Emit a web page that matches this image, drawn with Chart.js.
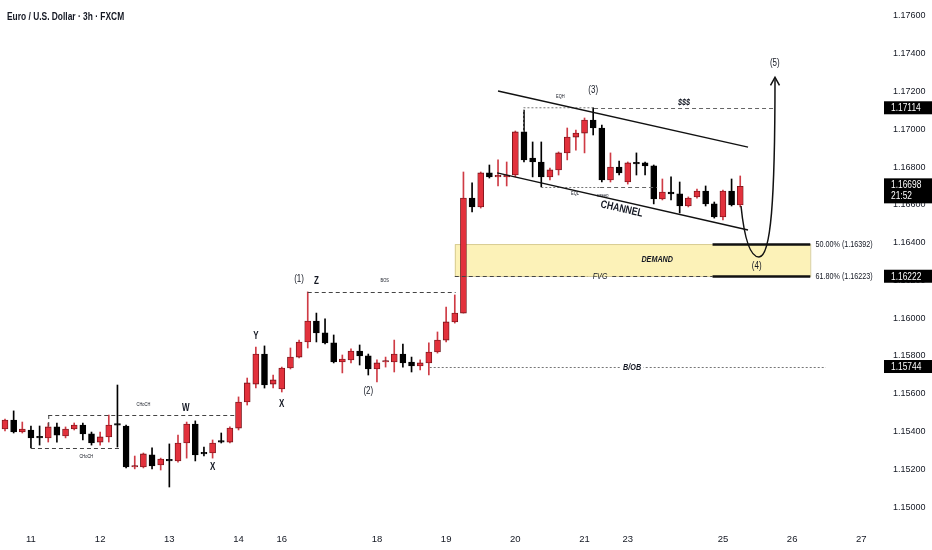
<!DOCTYPE html>
<html>
<head>
<meta charset="utf-8">
<script src="https://cdn.jsdelivr.net/npm/chart.js@4.4.1/dist/chart.umd.min.js"></script>
<style>
  html, body { margin: 0; padding: 0; background: #fff; }
  #wrap { width: 932px; height: 550px; position: relative; }
</style>
</head>
<body>
<div id="wrap"><canvas id="chart" width="932" height="550"></canvas></div>
<script>
// EUR/USD 3h candles (index 0 = first candle on the left)
const opens = [
  1.15413, 1.15461, 1.15397, 1.15408, 1.15371, 1.15366, 1.15424, 1.15376, 1.15413, 1.15434,
  1.15387, 1.15344, 1.15371, 1.15439, 1.15429, 1.15212, 1.15212, 1.15276, 1.15223, 1.15249,
  1.15244, 1.15339, 1.15439, 1.15286, 1.15286, 1.15350, 1.15344, 1.15418, 1.15556, 1.15651,
  1.15810, 1.15651, 1.15625, 1.15736, 1.15794, 1.15874, 1.15985, 1.15922, 1.15869, 1.15768,
  1.15779, 1.15826, 1.15800, 1.15731, 1.15768, 1.15768, 1.15810, 1.15768, 1.15747, 1.15763,
  1.15821, 1.15884, 1.15980, 1.16027, 1.16636, 1.16589, 1.16769, 1.16748, 1.16748, 1.16758,
  1.16986, 1.16848, 1.16827, 1.16748, 1.16785, 1.16875, 1.16959, 1.16980, 1.17049, 1.17007,
  1.16732, 1.16800, 1.16721, 1.16822, 1.16822, 1.16806, 1.16631, 1.16668, 1.16658, 1.16594,
  1.16642, 1.16673, 1.16605, 1.16536, 1.16673, 1.16599
];
const highs = [
  1.15466, 1.15509, 1.15450, 1.15429, 1.15429, 1.15445, 1.15445, 1.15424, 1.15445, 1.15445,
  1.15397, 1.15397, 1.15487, 1.15646, 1.15434, 1.15270, 1.15286, 1.15313, 1.15259, 1.15334,
  1.15381, 1.15450, 1.15456, 1.15318, 1.15355, 1.15392, 1.15424, 1.15583, 1.15683, 1.15847,
  1.15853, 1.15699, 1.15741, 1.15842, 1.15884, 1.16139, 1.16027, 1.15996, 1.15911, 1.15805,
  1.15837, 1.15858, 1.15810, 1.15779, 1.15794, 1.15884, 1.15863, 1.15794, 1.15779, 1.15869,
  1.15927, 1.16059, 1.16123, 1.16774, 1.16716, 1.16774, 1.16811, 1.16838, 1.16827, 1.16991,
  1.17102, 1.16933, 1.16933, 1.16795, 1.16880, 1.17007, 1.16996, 1.17060, 1.17114, 1.17023,
  1.16875, 1.16832, 1.16827, 1.16875, 1.16827, 1.16811, 1.16737, 1.16748, 1.16721, 1.16642,
  1.16684, 1.16700, 1.16615, 1.16678, 1.16737, 1.16753
];
const lows = [
  1.15403, 1.15392, 1.15392, 1.15313, 1.15328, 1.15344, 1.15344, 1.15366, 1.15408, 1.15355,
  1.15328, 1.15328, 1.15344, 1.15318, 1.15207, 1.15202, 1.15207, 1.15202, 1.15196, 1.15106,
  1.15238, 1.15259, 1.15244, 1.15270, 1.15259, 1.15339, 1.15339, 1.15408, 1.15540, 1.15630,
  1.15630, 1.15630, 1.15609, 1.15731, 1.15789, 1.15842, 1.15874, 1.15863, 1.15763, 1.15710,
  1.15763, 1.15752, 1.15699, 1.15662, 1.15741, 1.15715, 1.15741, 1.15715, 1.15726, 1.15699,
  1.15815, 1.15874, 1.15974, 1.16027, 1.16562, 1.16583, 1.16742, 1.16700, 1.16700, 1.16748,
  1.16827, 1.16748, 1.16695, 1.16732, 1.16758, 1.16838, 1.16890, 1.16875, 1.16970, 1.16721,
  1.16721, 1.16758, 1.16710, 1.16758, 1.16758, 1.16605, 1.16626, 1.16626, 1.16557, 1.16589,
  1.16636, 1.16594, 1.16530, 1.16520, 1.16594, 1.16589
];
const closes = [
  1.15461, 1.15397, 1.15413, 1.15366, 1.15366, 1.15424, 1.15381, 1.15413, 1.15434, 1.15387,
  1.15339, 1.15371, 1.15434, 1.15434, 1.15212, 1.15217, 1.15281, 1.15217, 1.15254, 1.15244,
  1.15339, 1.15439, 1.15276, 1.15281, 1.15339, 1.15344, 1.15418, 1.15556, 1.15657, 1.15810,
  1.15646, 1.15673, 1.15736, 1.15794, 1.15874, 1.15985, 1.15922, 1.15869, 1.15768, 1.15784,
  1.15826, 1.15800, 1.15731, 1.15763, 1.15773, 1.15810, 1.15763, 1.15747, 1.15763, 1.15821,
  1.15884, 1.15980, 1.16027, 1.16636, 1.16589, 1.16769, 1.16748, 1.16753, 1.16758, 1.16986,
  1.16838, 1.16827, 1.16748, 1.16785, 1.16875, 1.16959, 1.16980, 1.17049, 1.17007, 1.16732,
  1.16800, 1.16769, 1.16822, 1.16817, 1.16806, 1.16631, 1.16668, 1.16658, 1.16594, 1.16636,
  1.16673, 1.16605, 1.16536, 1.16673, 1.16599, 1.16698
];

// time axis: candle index where each day label sits
const dayTicks = [3, 11, 19, 27, 32, 43, 51, 59, 67, 72, 83, 91, 99];
const dayLabels = ['11', '12', '13', '14', '16', '18', '19', '20', '21', '23', '25', '26', '27'];

const priceTicks = [1.150, 1.152, 1.154, 1.156, 1.158, 1.160, 1.162, 1.164, 1.166, 1.168, 1.170, 1.172, 1.174, 1.176];

const lastPrice = 1.16698;
const lastTime = '21:52';
const markedPrices = [1.17114, 1.16222, 1.15744];
const fib50 = 1.16392;
const fib618 = 1.16223;

const UP = '#e2313c';
const DOWN = '#000000';
const TXT = '#131722';
const FONT = '"Liberation Sans", "DejaVu Sans", sans-serif';
const NARROW = 0.8; // TradingView's font is narrower than anything installed

var chart;

function buildDatasets() {
  var wicks = [], bodies = [], wickColors = [], bodyColors = [], borderColors = [];
  opens.forEach((o, i) => {
    wicks.push({ x: i, y: [lows[i], highs[i]] });
    bodies.push({ x: i, y: [o, closes[i]] });
    var up = closes[i] >= o;
    wickColors.push(up ? '#cf3b45' : DOWN);
    bodyColors.push(up ? UP : DOWN);
    borderColors.push(up ? '#6b1016' : DOWN);
  });
  return [{
    data: wicks,
    backgroundColor: wickColors,
    barThickness: 1,
    grouped: false,
    order: 2
  }, {
    data: bodies,
    backgroundColor: bodyColors,
    borderColor: borderColors,
    borderWidth: 0.8,
    borderSkipped: false,
    barThickness: 6,
    minBarLength: 1.5,
    grouped: false,
    order: 1
  }];
}

// drawing helpers in data units
function px(v) { return chart.scales.x.getPixelForValue(v); }
function py(v) { return chart.scales.y.getPixelForValue(v); }

function hline(ctx, x1, x2, p, dash, color, width) {
  ctx.save();
  ctx.beginPath();
  ctx.setLineDash(dash || []);
  ctx.strokeStyle = color || '#333';
  ctx.lineWidth = width || 1;
  ctx.moveTo(px(x1), Math.round(py(p)) + 0.5);
  ctx.lineTo(px(x2), Math.round(py(p)) + 0.5);
  ctx.stroke();
  ctx.restore();
}

function seg(ctx, x1, p1, x2, p2, color, width) {
  ctx.save();
  ctx.beginPath();
  ctx.strokeStyle = color;
  ctx.lineWidth = width;
  ctx.moveTo(px(x1), py(p1));
  ctx.lineTo(px(x2), py(p2));
  ctx.stroke();
  ctx.restore();
}

// text squeezed horizontally, anchored at (X, Y) in pixels
function text(ctx, s, X, Y, font, align, bg, color) {
  ctx.save();
  ctx.translate(X, Y);
  ctx.scale(NARROW, 1);
  ctx.font = font;
  ctx.textAlign = align || 'center';
  ctx.textBaseline = 'middle';
  if (bg) {
    var w = ctx.measureText(s).width;
    var lx = align === 'left' ? 0 : -w / 2;
    ctx.fillStyle = bg;
    ctx.fillRect(lx - 3, -6, w + 6, 12);
  }
  ctx.fillStyle = color || TXT;
  ctx.fillText(s, 0, 0);
  ctx.restore();
}

function label(ctx, s, x, p, font, align, bg) {
  text(ctx, s, px(x), py(p), font, align, bg);
}

const zonePlugin = {
  id: 'zones',
  beforeDatasetsDraw(c) {
    chart = c;
    var ctx = c.ctx;
    // demand / FVG zone
    var x1 = px(52), x2 = px(93.1);
    var y1 = py(fib50), y2 = py(fib618);
    ctx.save();
    ctx.fillStyle = 'rgba(251, 238, 160, 0.75)';
    ctx.fillRect(x1, y1, x2 - x1, y2 - y1);
    ctx.strokeStyle = '#cfc48a';
    ctx.lineWidth = 0.8;
    ctx.strokeRect(x1 + 0.5, y1 + 0.5, x2 - x1, y2 - y1);
    ctx.restore();
  },
  afterDatasetsDraw(c) {
    chart = c;
    var ctx = c.ctx;
    var dash = [4, 3], dot = [2, 2];

    // CHoCH levels
    hline(ctx, 5, 26.6, 1.15487, dash, '#444');
    hline(ctx, 3, 13.3, 1.15313, dash, '#444');
    ctx.save();
    ctx.strokeStyle = '#444';
    ctx.setLineDash(dash);
    ctx.beginPath();
    ctx.moveTo(px(5) + 0.5, py(1.15487));
    ctx.lineTo(px(5) + 0.5, py(1.15424));
    ctx.stroke();
    ctx.restore();
    label(ctx, 'CHoCH', 16, 1.15540, '5px ' + FONT);
    label(ctx, 'CHoCH', 9.4, 1.15265, '5px ' + FONT);

    // BOS
    hline(ctx, 35, 52.1, 1.16139, dash, '#444');
    label(ctx, 'BOS', 43.9, 1.16197, '5px ' + FONT);

    // B/OB
    hline(ctx, 49.1, 94.9, 1.15741, dot, '#777');
    label(ctx, 'B/OB', 72.5, 1.15741, 'italic bold 9px ' + FONT, 'center', '#fff');

    // FVG + fib levels
    hline(ctx, 52, 67.4, fib618, dash, '#444');
    hline(ctx, 70.2, 81.8, fib618, dash, '#444');
    label(ctx, 'DEMAND', 75.4, 1.16308, 'italic bold 9px ' + FONT);
    label(ctx, 'FVG', 68.8, fib618, 'italic 9px ' + FONT);
    hline(ctx, 81.8, 93.1, fib50, [], '#111', 2.5);
    hline(ctx, 81.8, 93.1, fib618, [], '#111', 2.5);
    label(ctx, '50.00% (' + fib50.toFixed(5) + ')', 93.7, fib50, '9px ' + FONT, 'left');
    label(ctx, '61.80% (' + fib618.toFixed(5) + ')', 93.7, fib618, '9px ' + FONT, 'left');

    // EQH / liquidity
    ctx.save();
    ctx.strokeStyle = '#777';
    ctx.setLineDash(dot);
    ctx.beginPath();
    ctx.moveTo(px(59.9) + 0.5, py(1.16986));
    ctx.lineTo(px(59.9) + 0.5, py(1.17114));
    ctx.lineTo(px(68.1), py(1.17114));
    ctx.stroke();
    ctx.restore();
    hline(ctx, 68.1, 89, 1.17114, dash, '#666');
    label(ctx, 'EQH', 64.2, 1.17171, '5px ' + FONT);
    label(ctx, '$$$', 78.5, 1.17140, 'italic bold 9px ' + FONT);

    // EQL
    hline(ctx, 62, 68.8, 1.16695, dot, '#777');
    hline(ctx, 68.8, 75.4, 1.16695, dash, '#666');
    label(ctx, 'EQL', 65.9, 1.16660, '5px ' + FONT);
    label(ctx, 'sweep', 69.1, 1.16650, '5px ' + FONT);

    // channel
    seg(ctx, 57, 1.17203, 85.9, 1.16906, '#111', 1.4);
    seg(ctx, 56.9, 1.16769, 85.9, 1.16467, '#111', 1.4);
    ctx.save();
    ctx.translate(px(71.3), py(1.16578));
    ctx.rotate(Math.atan2(py(1.16467) - py(1.16769), px(85.9) - px(56.9)));
    text(ctx, 'CHANNEL', 0, 0, 'bold 11px ' + FONT);
    ctx.restore();

    // projected path (4) -> (5)
    ctx.save();
    ctx.strokeStyle = '#111';
    ctx.lineWidth = 1.5;
    ctx.beginPath();
    ctx.moveTo(px(85.09), py(1.16594));
    ctx.bezierCurveTo(px(85.43), py(1.16441), px(86.01), py(1.16324), px(87.17), py(1.16324));
    ctx.bezierCurveTo(px(88.55), py(1.16324), px(89.02), py(1.16626), px(89.02), py(1.17265));
    ctx.stroke();
    var tx = px(89.02), ty = py(1.17265) - 2;
    ctx.beginPath();
    ctx.moveTo(tx - 4.5, ty + 8);
    ctx.lineTo(tx, ty);
    ctx.lineTo(tx + 4.5, ty + 8);
    ctx.stroke();
    ctx.restore();

    // wave / structure labels
    var waveFont = '10px ' + FONT;
    var letterFont = 'bold 10px ' + FONT;
    label(ctx, 'W', 20.9, 1.15524, letterFont);
    label(ctx, 'X', 24, 1.15212, letterFont);
    label(ctx, 'X', 32, 1.15545, letterFont);
    label(ctx, 'Y', 29, 1.15905, letterFont);
    label(ctx, 'Z', 36, 1.16197, letterFont);
    label(ctx, '(1)', 34, 1.16207, waveFont);
    label(ctx, '(2)', 42, 1.15614, waveFont);
    label(ctx, '(3)', 68, 1.17208, waveFont);
    label(ctx, '(4)', 86.9, 1.16276, waveFont);
    label(ctx, '(5)', 89, 1.17350, waveFont);
  },
  afterDraw(c) {
    chart = c;
    var ctx = c.ctx;
    var left = c.chartArea.right + 2;
    var boxFont = '10.5px ' + FONT;
    markedPrices.forEach(p => {
      var y = py(p);
      ctx.fillStyle = '#000';
      ctx.fillRect(left, y - 6.5, 48, 13);
      text(ctx, p.toFixed(5), left + 7, y + 0.5, boxFont, 'left', null, '#fff');
    });
    var yl = py(lastPrice);
    ctx.fillStyle = '#000';
    ctx.fillRect(left, yl - 8, 48, 25);
    text(ctx, lastPrice.toFixed(5), left + 7, yl - 1, boxFont, 'left', null, '#fff');
    text(ctx, lastTime, left + 7, yl + 10, boxFont, 'left', null, '#fff');

    // title
    text(ctx, 'Euro / U.S. Dollar \u00b7 3h \u00b7 FXCM', 7, 17, 'bold 10.5px ' + FONT, 'left');
  }
};

function setupChart() {
  var canvas = document.getElementById('chart').getContext('2d');

  chart = new Chart(canvas, {
    type: 'bar',
    data: { datasets: buildDatasets() },
    plugins: [zonePlugin],
    options: {
      responsive: false,
      animation: false,
      events: [],
      layout: { padding: 0 },
      plugins: {
        legend: { display: false },
        tooltip: { enabled: false }
      },
      scales: {
        x: {
          type: 'linear',
          offset: false,
          min: -0.578,
          max: 101.39,
          grid: { display: false, drawTicks: false },
          border: { display: false },
          afterBuildTicks: s => { s.ticks = dayTicks.map(v => ({ value: v })); },
          afterFit: s => { s.height = 23; s.paddingLeft = 0; s.paddingRight = 0; },
          ticks: {
            autoSkip: false,
            maxRotation: 0,
            padding: 7,
            color: TXT,
            font: { family: FONT, size: 9.5 },
            callback: v => dayLabels[dayTicks.indexOf(v)] || ''
          }
        },
        y: {
          type: 'linear',
          position: 'right',
          min: 1.148942,
          max: 1.176847,
          grid: { display: false, drawTicks: false },
          border: { display: false },
          afterBuildTicks: s => { s.ticks = priceTicks.map(v => ({ value: v })); },
          afterFit: s => { s.width = 50; s.paddingTop = 0; s.paddingBottom = 0; },
          ticks: {
            padding: 11,
            color: TXT,
            font: { family: FONT, size: 9 },
            callback: v => v.toFixed(5)
          }
        }
      }
    }
  });
}

setupChart();
</script>
</body>
</html>
